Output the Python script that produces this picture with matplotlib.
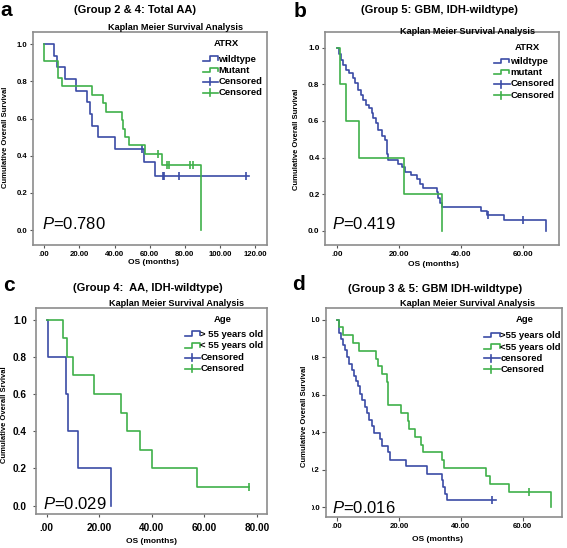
import matplotlib
matplotlib.use("Agg")
import matplotlib.pyplot as plt
from matplotlib.lines import Line2D
from matplotlib.transforms import Bbox, TransformedBbox

plt.rcParams['font.family'] = ['Liberation Sans', 'DejaVu Sans']
plt.rcParams['mathtext.fontset'] = 'custom'
plt.rcParams['mathtext.rm'] = 'Liberation Sans'
plt.rcParams['mathtext.it'] = 'Liberation Sans:italic'

# ---- data (months, cumulative survival) ----
# a: ATRX, total AA
a_wt_t = [0, 5.7, 7.0, 11.8, 18.1, 24.5, 26.0, 27.4, 30.8, 40.3, 57.0, 63.0, 116.7]
a_wt_s = [1.0, 0.938, 0.875, 0.812, 0.75, 0.688, 0.625, 0.562, 0.5, 0.438, 0.365, 0.292, 0.292]
a_wt_ct = [55.8, 67.8, 68.3, 76.7, 114.9]
a_wt_cs = [0.438, 0.292, 0.292, 0.292, 0.292]
a_mu_t = [0, 0, 8.0, 9.9, 27.0, 33.2, 35.1, 44.1, 45.0, 45.8, 48.2, 57.3, 67.0, 89.1]
a_mu_s = [1.0, 0.909, 0.818, 0.773, 0.727, 0.682, 0.636, 0.591, 0.545, 0.5, 0.455, 0.409, 0.352, 0.0]
a_mu_ct = [64.9, 70.0, 70.8, 83.0, 84.5]
a_mu_cs = [0.409, 0.352, 0.352, 0.352, 0.352]

# b: ATRX, GBM IDH-wildtype
b_wt_t = [0, 0.6, 1.2, 2.0, 2.9, 4.0, 5.0, 5.8, 6.6, 7.6, 8.5, 9.4, 10.4, 11.2, 11.7, 12.5,
          13.1, 14.4, 15.5, 16.0, 16.2, 16.4, 19.6, 21.0, 21.8, 23.8, 25.8, 26.8, 27.9,
          32.2, 32.7, 33.3, 33.9, 46.6, 48.3, 53.8, 67.5]
b_wt_s = [1.0, 0.967, 0.933, 0.906, 0.878, 0.86, 0.833, 0.806, 0.77, 0.742, 0.715, 0.688,
          0.67, 0.642, 0.615, 0.588, 0.55, 0.515, 0.496, 0.46, 0.42, 0.385, 0.367, 0.35,
          0.322, 0.304, 0.28, 0.255, 0.235, 0.213, 0.18, 0.15, 0.128, 0.109, 0.086, 0.058, 0.0]
b_wt_ct = [48.8, 60.2]
b_wt_cs = [0.086, 0.058]
b_mu_t = [0, 1.0, 3.0, 7.1, 21.6, 33.8]
b_mu_s = [1.0, 0.8, 0.6, 0.4, 0.2, 0.0]

# c: Age, AA IDH-wildtype
c_old_t = [0, 0.6, 7.4, 8.0, 11.8, 24.4]
c_old_s = [1.0, 0.8, 0.6, 0.4, 0.2, 0.0]
c_young_t = [0, 6.3, 7.6, 10.1, 18.1, 28.3, 30.7, 35.3, 40.0, 57.1, 77.1]
c_young_s = [1.0, 0.9, 0.8, 0.7, 0.6, 0.5, 0.4, 0.3, 0.2, 0.1, 0.1]
c_young_ct = [77.1]
c_young_cs = [0.1]

# d: Age, GBM IDH-wildtype
d_old_t = [0, 0.5, 0.8, 1.4, 2.0, 2.6, 3.3, 4.0, 4.7, 5.6, 6.3, 6.8, 7.6, 8.2, 8.9, 9.7,
           10.5, 11.4, 12.1, 14.0, 14.6, 16.5, 17.0, 22.2, 29.1, 33.8, 34.2, 35.0, 35.5, 51.3]
d_old_s = [1.0, 0.968, 0.929, 0.897, 0.867, 0.836, 0.80, 0.765, 0.733, 0.70, 0.675, 0.644,
           0.605, 0.573, 0.534, 0.502, 0.466, 0.431, 0.395, 0.363, 0.324, 0.292, 0.253,
           0.217, 0.179, 0.143, 0.107, 0.071, 0.036, 0.036]
d_old_ct = [50.1]
d_old_cs = [0.036]
d_young_t = [0, 0.5, 2.0, 5.3, 7.2, 12.5, 13.3, 14.4, 16.3, 16.4, 16.5, 16.6, 20.6, 22.8,
             23.3, 25.1, 27.3, 27.9, 33.8, 34.7, 48.0, 49.6, 55.6, 69.0]
d_young_s = [1.0, 0.958, 0.917, 0.875, 0.833, 0.792, 0.75, 0.708, 0.667, 0.625, 0.583,
             0.542, 0.5, 0.458, 0.417, 0.375, 0.333, 0.292, 0.25, 0.208, 0.167, 0.125,
             0.083, 0.0]
d_young_ct = [62.1]
d_young_cs = [0.083]

y_ticks = [0.0, 0.2, 0.4, 0.6, 0.8, 1.0]
y_ticklabels = ["0.0", "0.2", "0.4", "0.6", "0.8", "1.0"]

# ---- figure ----
W, H = 567, 548
fig = plt.figure(figsize=(W / 100, H / 100), dpi=100)
fig.patch.set_facecolor("white")

BLUE = "#3b4ba6"
GREEN = "#3fb04a"
FRAME = "#8c8c8c"


def fx(x):
    return x / W


def fy(y):
    return 1 - y / H


def add_panel(box, xlim, ylim, xticks, tick_fs, pad, tlen=2.5):
    l, t, r, b = box
    ax = fig.add_axes([fx(l), fy(b), (r - l) / W, (b - t) / H])
    ax.set_xlim(*xlim)
    ax.set_ylim(*ylim)
    ax.set_xticks(xticks)
    ax.set_xticklabels([".00" if v == 0 else "%.2f" % v for v in xticks])
    ax.set_yticks(y_ticks)
    ax.set_yticklabels(y_ticklabels)
    for sp in ax.spines.values():
        sp.set_color(FRAME)
        sp.set_linewidth(1.2)
    ax.tick_params(length=tlen, width=0.8, color="#555555", labelsize=tick_fs, pad=pad)
    for lab in ax.get_xticklabels() + ax.get_yticklabels():
        lab.set_fontweight("bold")
    return ax


def curve(ax, t, s, col, ct=None, cs=None):
    ax.step(t, s, where="post", color=col, lw=1.2)
    if ct:
        ax.plot(ct, cs, ls="none", marker="|", ms=6, mew=1.2, color=col)


def legend(head_xy, hx, tx, rows, head, labels, fs=6.8):
    fig.text(fx(head_xy[0]), fy(head_xy[1]), head, ha="center", va="center",
             fontsize=fs, fontweight="bold")
    kinds = [("step", BLUE), ("step", GREEN), ("cens", BLUE), ("cens", GREEN)]
    for (kind, col), lab, y in zip(kinds, labels, rows):
        if kind == "step":
            m = hx + 0.45 * (tx - hx)
            xs = [hx, m, m, tx - 0.5, tx - 0.5]
            ys = [y + 1.5, y + 1.5, y - 3, y - 3, y + 0.5]
            fig.add_artist(Line2D([fx(v) for v in xs], [fy(v) for v in ys], color=col, lw=1.2))
        else:
            fig.add_artist(Line2D([fx(hx), fx(tx)], [fy(y), fy(y)], color=col, lw=1.2))
            m = hx + 0.45 * (tx - hx)
            fig.add_artist(Line2D([fx(m), fx(m)], [fy(y - 3.5), fy(y + 3.5)], color=col, lw=1.2))
        fig.text(fx(tx + 0.5), fy(y), lab, ha="left", va="center", fontsize=fs, fontweight="bold")


def texts(letter_xy, letter, title_xy, title, km_xy, ylab_xy, ylab, xlab_xy, p_xy, p):
    fig.text(fx(letter_xy[0]), fy(letter_xy[1]), letter, ha="left", va="baseline",
             fontsize=15, fontweight="bold")
    fig.text(fx(title_xy[0]), fy(title_xy[1]), title, ha="center", va="center",
             fontsize=8, fontweight="bold")
    fig.text(fx(km_xy[0]), fy(km_xy[1]), "Kaplan Meier Survival Analysis", ha="center",
             va="center", fontsize=6.6, fontweight="bold")
    fig.text(fx(ylab_xy[0]), fy(ylab_xy[1]), ylab, ha="center", va="center", rotation=90,
             fontsize=5.5, fontweight="bold")
    fig.text(fx(xlab_xy[0]), fy(xlab_xy[1]), "OS (months)", ha="center", va="center",
             fontsize=6, fontweight="bold")
    fig.text(fx(p_xy[0]), fy(p_xy[1]), r"$\mathit{P}$=" + p, ha="left", va="baseline",
             fontsize=12)


# panel a
ax_a = add_panel((33, 32, 267, 245), (-6.4, 126.8), (-0.08, 1.065),
                 [0, 20, 40, 60, 80, 100, 120], 5.6, 1.5)
curve(ax_a, a_wt_t, a_wt_s, BLUE, a_wt_ct, a_wt_cs)
curve(ax_a, a_mu_t, a_mu_s, GREEN, a_mu_ct, a_mu_cs)
legend((226.7, 43.3), 203, 218, [59.3, 70.7, 81.7, 92.7], "ATRX",
       ["wildtype", "Mutant", "Censored", "Censored"])
texts((0.5, 15.5), "a", (135, 10), "(Group 2 & 4: Total AA)", (175, 27),
      (6, 137), "Cumulative Overall Survival", (153, 263), (42, 229.5), "0.780")

# panel b
ax_b = add_panel((325, 32, 559, 245), (-3.9, 71.7), (-0.078, 1.086),
                 [0, 20, 40, 60], 5.8, 1.5)
curve(ax_b, b_wt_t, b_wt_s, BLUE, b_wt_ct, b_wt_cs)
curve(ax_b, b_mu_t, b_mu_s, GREEN)
legend((527, 47), 493.7, 509.7, [61.7, 72.7, 84, 95], "ATRX",
       ["wildtype", "mutant", "Censored", "Censored"])
texts((293.5, 16.7), "b", (439.5, 10), "(Group 5: GBM, IDH-wildtype)", (468, 31),
      (297, 139), "Cumulative Overall Survival", (433.7, 265), (332, 229.3), "0.419")

# panel c
ax_c = add_panel((36, 308, 267, 514), (-4.1, 83.8), (-0.045, 1.063),
                 [0, 20, 40, 60, 80], 7.2, 4)
curve(ax_c, c_old_t, c_old_s, BLUE)
curve(ax_c, c_young_t, c_young_s, GREEN, c_young_ct, c_young_cs)
legend((223, 319.3), 185, 200, [334.3, 346, 357.7, 368.7], "Age",
       ["> 55 years old", "< 55 years old", "Censored", "Censored"])
texts((3, 290.7), "c", (147.5, 288), "(Group 4:  AA, IDH-wildtype)", (176.7, 303),
      (5, 414.5), "Cumulative Overall Srvival", (151.7, 541.7), (42.7, 509.3), "0.029")

# panel d
ax_d = add_panel((325.5, 308, 562, 517), (-3.7, 72.7), (-0.053, 1.062),
                 [0, 20, 40, 60], 5.6, 0.8, tlen=3.2)
curve(ax_d, d_old_t, d_old_s, BLUE, d_old_ct, d_old_cs)
curve(ax_d, d_young_t, d_young_s, GREEN, d_young_ct, d_young_cs)
legend((524.7, 320), 483.7, 500, [335.7, 347.3, 358.3, 369.3], "Age",
       [">55 years old", "<55 years old", "censored", "Censored"])
texts((292, 290), "d", (435, 288.5), "(Group 3 & 5: GBM IDH-wildtype)", (468, 303),
      (305, 416), "Cumulative Overall Survival", (437, 539.3), (332, 512.7), "0.016")

# the source image crops the left edge of panel d's y tick labels
clip = TransformedBbox(Bbox([[fx(311.5), 0], [1, 1]]), fig.transFigure)
for lab in ax_d.get_yticklabels():
    lab.set_clip_box(clip)
    lab.set_clip_on(True)

fig.savefig("out.png", dpi=100, facecolor="white")
